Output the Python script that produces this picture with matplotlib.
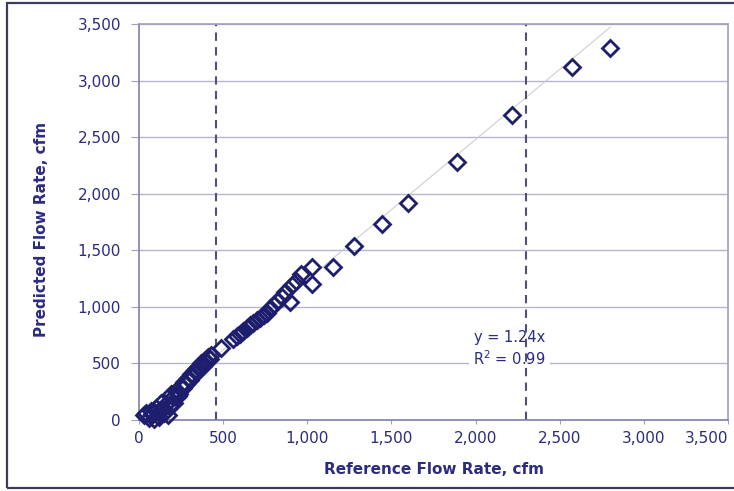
import matplotlib.pyplot as plt
from matplotlib.patches import Rectangle
from matplotlib.ticker import FuncFormatter
import numpy as np

plt.rcParams['font.family'] = ['DejaVu Sans']

# reference vs predicted flow rate, cfm
ref_low = [30, 40, 60, 70, 80, 90, 100, 110, 120, 130, 140, 150, 160, 170, 180, 190,
           200, 210, 220, 230, 240, 250, 260, 270, 280, 290, 300, 310, 320, 330,
           340, 350, 360, 370, 380, 390, 400, 410, 420, 425]
pred_low = [40, 60, 20, 80, 50, 10, 110, 70, 30, 150, 100, 60, 140, 40, 120, 230,
            200, 150, 260, 210, 230, 300, 280, 340, 320, 370, 350, 410, 390, 440,
            420, 470, 450, 500, 480, 530, 510, 560, 540, 575]
ref_mid = [490, 560, 580, 600, 620, 640, 660, 680, 700, 720, 740, 760, 780, 800,
           820, 850, 870, 900, 910, 930, 960, 1030, 1030]
pred_mid = [640, 720, 740, 760, 790, 810, 840, 860, 880, 900, 930, 950, 990, 1020,
            1050, 1090, 1130, 1040, 1190, 1230, 1290, 1350, 1200]
ref_high = [1150, 1280, 1445, 1600, 1890, 2215, 2570, 2800]
pred_high = [1350, 1535, 1730, 1920, 2280, 2700, 3120, 3290]

slope = 1.24
r2 = 0.99
limits = [460, 2300]
ticks = [0, 500, 1000, 1500, 2000, 2500, 3000, 3500]

ref = np.array(ref_low + ref_mid + ref_high)
pred = np.array(pred_low + pred_mid + pred_high)

navy = '#1e1e6e'
text_c = '#2b2b80'

fig = plt.figure(figsize=(7.34, 4.91), dpi=100)
ax = fig.add_axes([0.1894, 0.1446, 0.8025, 0.8065])

# outer frame
fig.patches.append(Rectangle((7 / 734, 3 / 491), 1.0, 485 / 491, transform=fig.transFigure,
                             fill=False, edgecolor='#3c3c5c', linewidth=1.6))

ax.set_axisbelow(True)
ax.grid(axis='y', color='#b4b4d0', linewidth=1)

fit_x = np.array([0, ref.max()])
ax.plot(fit_x, slope * fit_x, color='#cfcfcf', linewidth=0.8, zorder=1)

for xv in limits:
    ax.axvline(xv, color='#50507a', linewidth=1.5, dashes=(4, 3), zorder=2)

ax.plot(ref, pred, linestyle='none', marker='D', markersize=8.5, markerfacecolor='none',
        markeredgecolor=navy, markeredgewidth=2, zorder=3, clip_on=False)

ax.text(2200, 625, 'y = %.2fx\nR$^2$ = %.2f' % (slope, r2), ha='center', va='center',
        color=text_c, fontsize=10.5, linespacing=1.3, zorder=1.5,
        bbox=dict(facecolor='white', edgecolor='none', pad=3))

ax.set_xlim(0, 3500)
ax.set_ylim(0, 3500)
ax.set_xticks(ticks)
ax.set_yticks(ticks)
fmt = FuncFormatter(lambda v, p: '{:,.0f}'.format(v))
ax.xaxis.set_major_formatter(fmt)
ax.yaxis.set_major_formatter(fmt)

for s in ax.spines.values():
    s.set_color('#a0a0c0')
    s.set_linewidth(1.2)
ax.spines['left'].set_color('#8080a8')
ax.spines['bottom'].set_color('#8080a8')

ax.tick_params(axis='y', length=6, color='#a0a0c0', labelcolor=text_c, labelsize=11, pad=7)
ax.tick_params(axis='x', length=3, color='#a0a0c0', labelcolor=text_c, labelsize=11, pad=5)
# last x label sits inside the figure edge, as in the original
ax.get_xticklabels()[-1].set_horizontalalignment('right')

ax.set_xlabel('Reference Flow Rate, cfm', fontsize=11, fontweight='bold', color=text_c)
ax.set_ylabel('Predicted Flow Rate, cfm', fontsize=11, fontweight='bold', color=text_c)
ax.xaxis.set_label_coords(0.5, -0.105)
ax.yaxis.set_label_coords(-0.152, 0.48)

fig.savefig('out.png', dpi=100)
